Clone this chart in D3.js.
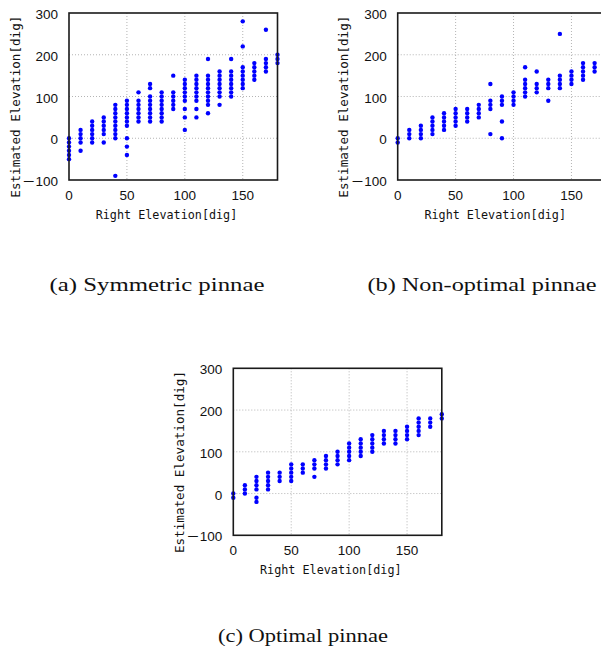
<!DOCTYPE html>
<html>
<head>
<meta charset="utf-8">
<script src="https://cdn.jsdelivr.net/npm/d3@7.9.0/dist/d3.min.js"></script>
<style>
  body { margin: 0; background: #fff; }
  svg { display: block; }
</style>
</head>
<body>
<div id="chart"></div>
<script>
// right elevation (x) for every column of dots
const xs = [0, 10, 20, 30, 40, 50, 60, 70, 80, 90, 100, 110, 120, 130, 140, 150, 160, 170, 180];

// estimated elevations per column
const symmetric = [
  [0, -10, -20, -30, -40, -50],
  [20, 10, 0, -10, -30],
  [40, 30, 20, 10, 0, -10],
  [50, 40, 30, 20, 10, -10],
  [80, 70, 60, 50, 40, 30, 20, 10, 0, -90],
  [90, 80, 70, 60, 50, 40, 30, 0, -20, -40],
  [110, 90, 80, 70, 60, 50, 40],
  [130, 120, 100, 90, 80, 70, 60, 50, 40],
  [110, 100, 90, 80, 70, 60, 50, 40],
  [150, 110, 100, 90, 80, 70],
  [140, 130, 120, 110, 100, 90, 70, 50, 20],
  [150, 140, 130, 120, 110, 100, 90, 70, 50],
  [190, 150, 140, 130, 120, 110, 100, 90, 80, 60],
  [160, 150, 140, 130, 120, 110, 100, 80],
  [190, 160, 150, 140, 130, 120, 110, 100],
  [280, 220, 170, 160, 150, 140, 130, 120],
  [180, 170, 160, 150, 140],
  [260, 190, 180, 170, 160],
  [200, 190, 180]
];

const nonOptimal = [
  [0, -10],
  [20, 10, 0],
  [30, 20, 10, 0],
  [50, 40, 30, 20, 10],
  [60, 50, 40, 30, 20],
  [70, 60, 50, 40, 30],
  [70, 60, 50, 40],
  [80, 70, 60, 50],
  [130, 90, 80, 70, 10],
  [100, 90, 80, 40, 0],
  [110, 100, 90, 80],
  [170, 140, 130, 120, 110, 100],
  [160, 130, 120, 110],
  [140, 130, 120, 90],
  [250, 150, 140, 130, 120],
  [160, 150, 140, 130],
  [180, 170, 160, 150, 140],
  [180, 170, 160],
  [190, 180]
];

const optimal = [
  [0, -10],
  [20, 10, 0],
  [40, 30, 20, 10, -10, -20],
  [50, 40, 30, 20, 10],
  [50, 40, 30],
  [70, 60, 50, 40, 30],
  [70, 60, 50],
  [80, 70, 60, 40],
  [90, 80, 70, 60],
  [100, 90, 80, 70],
  [120, 110, 100, 90, 80],
  [130, 120, 110, 100, 90],
  [140, 130, 120, 110, 100],
  [150, 140, 130, 120],
  [150, 140, 130, 120],
  [160, 150, 140, 130],
  [180, 170, 160, 150, 140],
  [180, 170, 160],
  [190, 180]
];

const xTicks = [0, 50, 100, 150];
const yTicks = [-100, 0, 100, 200, 300];
const xTitle = 'Right Elevation[dig]';
const yTitle = 'Estimated Elevation[dig]';

const W = 601, H = 653;
const pw = 208.5, ph = 167;

const svg = d3.select('#chart').append('svg')
  .attr('width', W).attr('height', H)
  .attr('viewBox', [0, 0, W, H]);

svg.append('rect').attr('width', W).attr('height', H).attr('fill', '#fff');

function flatten(cols) {
  return cols.flatMap((vals, i) => vals.map(v => ({ x: xs[i], y: v })));
}

function drawPanel(cols, left, top) {
  const x = d3.scaleLinear().domain([0, 180]).range([left, left + pw]);
  const y = d3.scaleLinear().domain([-100, 300]).range([top + ph, top]);
  const g = svg.append('g');

  // dotted grid
  g.append('g')
    .selectAll('line')
    .data(xTicks.filter(d => d > 0))
    .join('line')
      .attr('x1', d => x(d)).attr('x2', d => x(d))
      .attr('y1', top).attr('y2', top + ph)
      .attr('stroke', '#b4b4b4').attr('stroke-width', 1)
      .attr('stroke-dasharray', '1,2');
  g.append('g')
    .selectAll('line')
    .data(yTicks.filter(d => d > -100 && d < 300))
    .join('line')
      .attr('x1', left).attr('x2', left + pw)
      .attr('y1', d => y(d)).attr('y2', d => y(d))
      .attr('stroke', '#b4b4b4').attr('stroke-width', 1)
      .attr('stroke-dasharray', '1,2');

  // dots
  g.append('g')
    .selectAll('circle')
    .data(flatten(cols))
    .join('circle')
      .attr('cx', d => x(d.x))
      .attr('cy', d => y(d.y))
      .attr('r', 2.2)
      .attr('fill', '#0000ff');

  // frame
  g.append('rect')
    .attr('x', left).attr('y', top)
    .attr('width', pw).attr('height', ph)
    .attr('fill', 'none')
    .attr('stroke', '#1a1a1a')
    .attr('stroke-width', 1.6);

  // tick labels
  g.append('g')
    .selectAll('text')
    .data(xTicks)
    .join('text')
      .attr('x', d => x(d))
      .attr('y', top + ph + 19.5)
      .attr('text-anchor', 'middle')
      .attr('font-family', '"Liberation Sans", Arial, sans-serif')
      .attr('font-size', 13.5)
      .attr('fill', '#111')
      .text(d => d);
  g.append('g')
    .selectAll('text')
    .data(yTicks)
    .join('text')
      .attr('x', left - 11)
      .attr('y', d => y(d) + 6)
      .attr('text-anchor', 'end')
      .attr('font-family', '"Liberation Sans", Arial, "Noto Sans CJK JP", sans-serif')
      .attr('font-size', 13.5)
      .attr('fill', '#111')
      .text(d => d < 0 ? '\uFF0D' + Math.abs(d) : d);

  // axis titles
  g.append('text')
    .attr('x', left + 97.5)
    .attr('y', top + ph + 38.5)
    .attr('text-anchor', 'middle')
    .attr('font-family', '"DejaVu Sans Mono", monospace')
    .attr('font-size', 12)
    .attr('textLength', 141.6)
    .attr('lengthAdjust', 'spacingAndGlyphs')
    .attr('fill', '#111')
    .text(xTitle);
  g.append('text')
    .attr('transform', `translate(${left - 49.5},${top + 93.7}) rotate(-90)`)
    .attr('text-anchor', 'middle')
    .attr('font-family', '"DejaVu Sans Mono", monospace')
    .attr('font-size', 12)
    .attr('textLength', 182)
    .attr('lengthAdjust', 'spacingAndGlyphs')
    .attr('fill', '#111')
    .text(yTitle);
}

drawPanel(symmetric, 69, 13);
drawPanel(nonOptimal, 397.7, 13);
drawPanel(optimal, 233.3, 368.3);

// captions
const captions = [
  { text: '(a) Symmetric pinnae', cx: 157, cy: 291, len: 215 },
  { text: '(b) Non-optimal pinnae', cx: 482, cy: 291, len: 229 },
  { text: '(c) Optimal pinnae', cx: 303, cy: 642, len: 170 }
];
svg.append('g')
  .selectAll('text')
  .data(captions)
  .join('text')
    .attr('x', d => d.cx)
    .attr('y', d => d.cy)
    .attr('text-anchor', 'middle')
    .attr('font-family', '"Liberation Serif", "Times New Roman", serif')
    .attr('font-size', 19)
    .attr('textLength', d => d.len)
    .attr('lengthAdjust', 'spacingAndGlyphs')
    .attr('fill', '#111')
    .text(d => d.text);
</script>
</body>
</html>
